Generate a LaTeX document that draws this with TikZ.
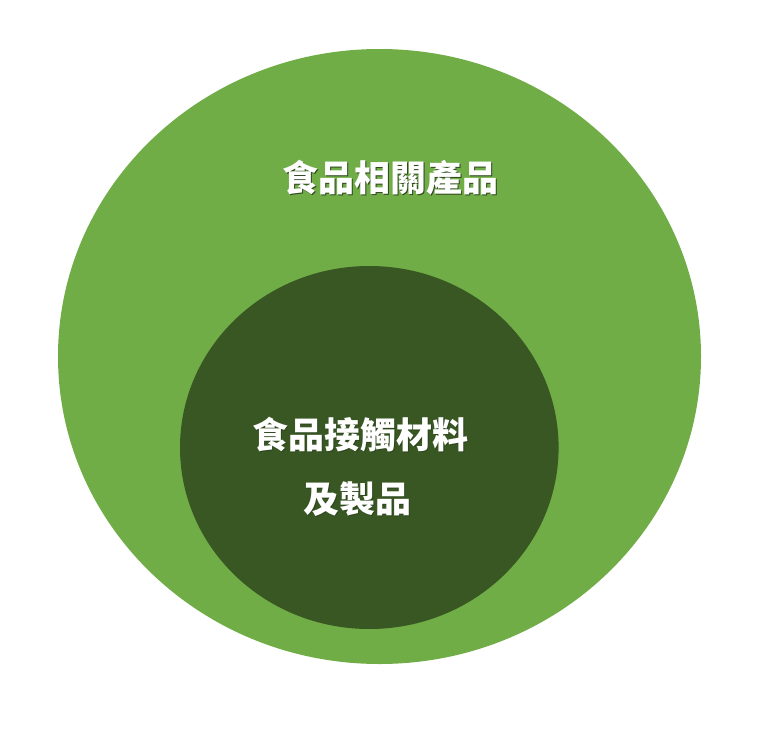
\documentclass[tikz,border=0pt]{standalone}
\usepackage{fontspec}
\usepackage{tikz}
\newfontfamily\cjk{Noto Sans CJK TC}
\newcommand\halo[1]{\makebox[0pt][l]{\hspace{1.2pt}\raisebox{-1.2pt}{\textcolor{text_shade}{#1}}}#1}
\definecolor{outer_green}{RGB}{112,173,71}
\definecolor{inner_green}{RGB}{56,87,35}
\definecolor{text_shade}{RGB}{45,70,30}

\begin{document}
\begin{tikzpicture}[x=1pt,y=-1pt]
    \tikzstyle{caption}=[text=white,inner sep=0pt,font=\cjk\bfseries\fontsize{36}{36}\selectfont]
    \useasboundingbox (0,0) rectangle (771,739);

    \fill[outer_green] (379.5,356.5) ellipse [x radius=321.5, y radius=307.5];
    \fill[inner_green] (369.3,447.5) ellipse [x radius=189.3, y radius=181.5];

    \node[caption] (related)   at (390,178) {\halo{食品相關產品}};
    \node[caption] (contactA)  at (360,435) {\halo{食品接觸材料}};
    \node[caption] (contactB)  at (357,500) {\halo{及製品}};
\end{tikzpicture}
\end{document}
